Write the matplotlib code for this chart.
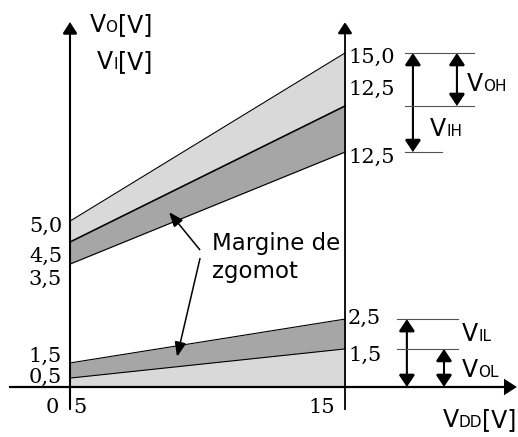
import matplotlib
matplotlib.use("Agg")
import matplotlib.pyplot as plt
from matplotlib.patches import FancyArrowPatch
from matplotlib.offsetbox import TextArea, HPacker, AnnotationBbox

# Supply voltage at the two ends of the diagram
vdd = [5, 15]

# High-level band (schematic levels)
out_high_top = [7.45, 15.0]   # V_OH upper limit
voh_min = [6.51, 12.62]       # V_OH lower limit
vih_min = [5.52, 10.55]       # V_IH lower limit

# Low-level band (schematic levels)
vil_max = [1.08, 3.05]        # V_IL upper limit
vol_max = [0.40, 1.71]        # V_OL upper limit

# Value labels on the left (VDD = 5 V) and right (VDD = 15 V) axes
left_labels = ["5,0", "4,5", "3,5", "1,5", "0,5"]
left_label_y = [7.19, 5.88, 4.85, 1.39, 0.45]
right_labels = ["15,0", "12,5", "12,5", "2,5", "1,5"]
right_label_y = [14.78, 13.38, 10.33, 3.10, 1.44]
x_labels = ["0", "5", "15"]
x_label_x = [4.35, 5.36, 14.16]

LIGHT = "#d9d9d9"
DARK = "#a6a6a6"
SANS = "DejaVu Sans"
SERIF = "DejaVu Serif"

fig = plt.figure(figsize=(5.18, 4.37), dpi=100)
ax = fig.add_axes([0, 0, 1, 1])
ax.set_xlim(2.4545, 21.2909)
ax.set_ylim(-2.2455, 17.380)
ax.axis("off")

# Bands
ax.fill_between(vdd, voh_min, out_high_top, color=LIGHT, lw=0)
ax.fill_between(vdd, vih_min, voh_min, color=DARK, lw=0)
ax.fill_between(vdd, vol_max, vil_max, color=DARK, lw=0)
ax.fill_between(vdd, [0, 0], vol_max, color=LIGHT, lw=0)
ax.plot(vdd, out_high_top, color="k", lw=0.8)
ax.plot(vdd, voh_min, color="k", lw=1.2)
ax.plot(vdd, vih_min, color="k", lw=0.8)
ax.plot(vdd, vil_max, color="k", lw=0.8)
ax.plot(vdd, vol_max, color="k", lw=0.8)


def arrow(p0, p1, style, lw, hl, hw):
    ax.add_patch(FancyArrowPatch(
        p0, p1, arrowstyle=f"{style},head_length={hl},head_width={hw}",
        mutation_scale=1, lw=lw, color="k", shrinkA=0, shrinkB=0,
        joinstyle="miter", capstyle="butt"))


# Axes
arrow((vdd[0], -1.03), (vdd[0], 16.39), "-|>", 1.5, 7, 4.5)
arrow((vdd[1], -1.03), (vdd[1], 16.39), "-|>", 1.3, 7, 4.5)
arrow((2.78, 0), (21.25, 0), "-|>", 1.6, 7, 4.5)

# Reference lines and level arrows on the right
ref = dict(color="#555555", lw=0.8)
ax.plot([17.18, 19.69], [out_high_top[1]] * 2, **ref)
ax.plot([17.18, 19.69], [voh_min[1]] * 2, **ref)
ax.plot([17.18, 18.53], [vih_min[1]] * 2, **ref)
ax.plot([16.89, 19.11], [vil_max[1]] * 2, **ref)
ax.plot([16.89, 19.11], [vol_max[1]] * 2, **ref)

arrow((17.47, vih_min[1]), (17.47, out_high_top[1]), "<|-|>", 1.5, 7.5, 5)
arrow((19.07, voh_min[1]), (19.07, out_high_top[1]), "<|-|>", 1.5, 7.5, 5)
arrow((17.25, 0), (17.25, vil_max[1]), "<|-|>", 1.5, 7.5, 5)
arrow((18.60, 0), (18.60, vol_max[1]), "<|-|>", 1.5, 7.5, 5)

# Noise margin annotation
ax.text(10.16, 6.15, "Margine de", family=SANS, fontsize=16.5, va="baseline")
ax.text(10.16, 4.90, "zgomot", family=SANS, fontsize=16.5, va="baseline")
arrow((9.73, 6.15), (8.60, 7.86), "-|>", 1.1, 9, 3.5)
arrow((9.73, 5.79), (8.89, 1.35), "-|>", 1.1, 9, 3.5)

# Numeric labels
for t, y in zip(left_labels, left_label_y):
    ax.text(4.71, y, t, family=SERIF, fontsize=15, ha="right", va="center")
for t, y in zip(right_labels, right_label_y):
    ax.text(15.11, y, t, family=SERIF, fontsize=15, ha="left", va="center")
for t, x in zip(x_labels, x_label_x):
    ax.text(x, -0.94, t, family=SERIF, fontsize=15, ha="center", va="center")


def vlabel(x, y, sub, tail="", halign=0.0):
    big = dict(family=SANS, fontsize=17)
    small = dict(family=SANS, fontsize=11)
    parts = [TextArea("V", textprops=big), TextArea(sub, textprops=small)]
    if tail:
        parts.append(TextArea(tail, textprops=big))
    box = HPacker(children=parts, align="baseline", pad=0, sep=0)
    ab = AnnotationBbox(box, (x, y), xycoords="data", frameon=False,
                        box_alignment=(halign, 0.5), pad=0,
                        annotation_clip=False)
    ax.add_artist(ab)


vlabel(7.98, 16.26, "O", "[V]", halign=1.0)
vlabel(7.98, 14.60, "I", "[V]", halign=1.0)
vlabel(19.44, 13.61, "OH")
vlabel(18.09, 11.59, "IH")
vlabel(19.26, 2.38, "IL")
vlabel(19.26, 0.76, "OL")
vlabel(21.24, -1.48, "DD", "[V]", halign=1.0)

fig.savefig("out.png", dpi=100)
